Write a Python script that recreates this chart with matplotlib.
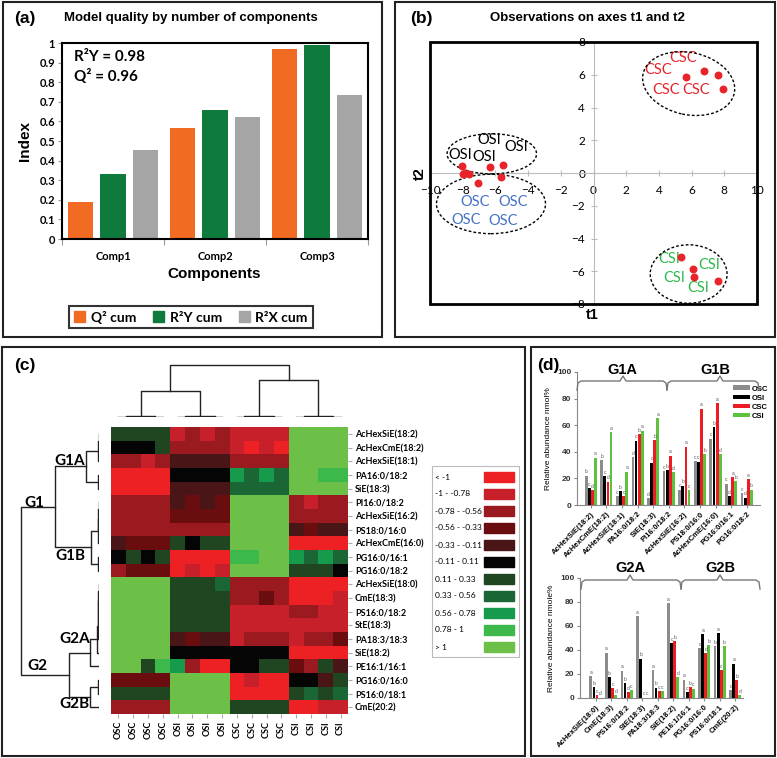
import matplotlib
matplotlib.use('Agg')
import matplotlib.pyplot as plt
import numpy as np
from matplotlib.colors import ListedColormap, BoundaryNorm
from matplotlib.patches import Rectangle, Ellipse, Patch
from matplotlib.lines import Line2D

plt.rcParams['font.family'] = ['Liberation Sans', 'DejaVu Sans']

# ---------------- data ----------------
# (a) model quality
components = ['Comp1', 'Comp2', 'Comp3']
q2_cum = [0.19, 0.565, 0.97]
r2y_cum = [0.33, 0.66, 0.99]
r2x_cum = [0.455, 0.625, 0.735]

# (b) scores t1/t2
csc_t1 = [5.67, 6.78, 7.61, 7.90]
csc_t2 = [5.88, 6.25, 5.97, 5.13]
osi_t1 = [-8.04, -6.35, -5.53, -5.65]
osi_t2 = [0.44, 0.34, 0.48, -0.23]
osc_t1 = [-7.96, -7.63, -7.08, -7.85]
osc_t2 = [-0.05, -0.05, -0.60, -0.02]
csi_t1 = [5.33, 6.08, 6.14, 7.61]
csi_t2 = [-5.11, -5.84, -6.35, -6.58]

# (c) heatmap (level index into the legend classes)
lipids = ['AcHexSiE(18:2)', 'AcHexCmE(18:2)', 'AcHexSiE(18:1)', 'PA16:0/18:2', 'SiE(18:3)',
          'PI16:0/18:2', 'AcHexSiE(16:2)', 'PS18:0/16:0', 'AcHexCmE(16:0)', 'PG16:0/16:1',
          'PG16:0/18:2', 'AcHexSiE(18:0)', 'CmE(18:3)', 'PS16:0/18:2', 'StE(18:3)',
          'PA18:3/18:3', 'SiE(18:2)', 'PE16:1/16:1', 'PG16:0/16:0', 'PS16:0/18:1', 'CmE(20:2)']
samples = ['OSC'] * 4 + ['OSI'] * 4 + ['CSC'] * 4 + ['CSI'] * 4
levels = [
    [6, 6, 6, 6, 1, 2, 1, 2, 1, 1, 1, 1, 10, 10, 10, 10],
    [5, 5, 5, 6, 2, 2, 2, 2, 1, 0, 1, 0, 10, 10, 10, 10],
    [2, 2, 1, 2, 4, 4, 4, 4, 2, 2, 2, 2, 10, 10, 10, 10],
    [0, 0, 0, 0, 5, 5, 5, 5, 8, 7, 8, 7, 10, 10, 9, 9],
    [0, 0, 0, 0, 4, 4, 4, 4, 7, 7, 7, 7, 10, 10, 10, 10],
    [2, 2, 2, 2, 4, 3, 4, 3, 10, 10, 10, 10, 2, 1, 2, 2],
    [2, 2, 2, 2, 3, 3, 3, 3, 10, 10, 10, 10, 2, 2, 2, 2],
    [2, 2, 2, 2, 2, 2, 2, 2, 10, 10, 10, 10, 4, 3, 4, 4],
    [4, 3, 3, 3, 6, 5, 6, 6, 10, 10, 10, 10, 0, 0, 0, 0],
    [5, 6, 5, 6, 0, 0, 0, 0, 9, 9, 10, 10, 8, 7, 8, 7],
    [2, 3, 3, 3, 0, 1, 0, 1, 10, 10, 10, 10, 6, 6, 6, 5],
    [10, 10, 10, 10, 6, 6, 6, 7, 2, 2, 2, 2, 0, 0, 0, 0],
    [10, 10, 10, 10, 6, 6, 6, 6, 2, 2, 3, 2, 0, 0, 0, 1],
    [10, 10, 10, 10, 6, 6, 6, 6, 1, 1, 1, 1, 2, 2, 1, 1],
    [10, 10, 10, 10, 6, 6, 6, 6, 1, 1, 1, 1, 1, 1, 1, 1],
    [10, 10, 10, 10, 4, 3, 4, 4, 1, 2, 2, 2, 1, 2, 2, 3],
    [10, 10, 10, 10, 5, 5, 5, 5, 5, 5, 5, 5, 0, 0, 0, 0],
    [10, 10, 6, 9, 8, 2, 0, 0, 5, 5, 6, 6, 3, 2, 6, 4],
    [3, 3, 3, 3, 10, 10, 10, 10, 0, 1, 0, 0, 5, 5, 4, 6],
    [6, 6, 6, 6, 10, 10, 10, 10, 0, 0, 0, 0, 6, 7, 6, 7],
    [2, 2, 2, 2, 10, 10, 10, 10, 6, 6, 6, 6, 0, 0, 1, 1],
]
level_labels = ['< -1', '-1 - -0.78', '-0.78 - -0.56', '-0.56 - -0.33', '-0.33 - -0.11',
                '-0.11 - 0.11', '0.11 - 0.33', '0.33 - 0.56', '0.56 - 0.78', '0.78 - 1', '> 1']
level_colors = ['#ed2024', '#c8202a', '#9a1a1f', '#690d0f', '#4a1516', '#050505',
                '#1f4621', '#1a6634', '#169a4c', '#3db84a', '#6cbf47']

# (d) relative abundance
top_groups = ['AcHexSiE(18:2)', 'AcHexCmE(18:2)', 'AcHexSiE(18:1)', 'PA16:0/18:2', 'SiE(18:3)',
              'PI16:0/18:2', 'AcHexSiE(16:2)', 'PS18:0/16:0', 'AcHexCmE(16:0)', 'PG16:0/16:1',
              'PG16:0/18:2']
top_osc = [22, 33.5, 6.5, 36, 5.25, 25.5, 11.5, 33, 50, 16, 8.75]
top_osi = [12.5, 21.75, 10.25, 48.25, 31.75, 26, 14.5, 32.5, 58.5, 6.5, 5.5]
top_csc = [11, 17.5, 6.75, 53.25, 49, 37, 43.75, 72.5, 76.75, 20.75, 19.5]
top_csi = [35.5, 55, 25, 56, 65.5, 24.75, 11, 38.25, 38.25, 18, 11.5]
top_letters = ['bcda', 'bcda', 'cbca', 'dcba', 'dcba', 'cbad', 'cbac', 'ccab', 'cbad', 'cdab', 'cdab']

bot_groups = ['AcHexSiE(18:0)', 'CmE(18:3)', 'PS16:0/18:2', 'StE(18:3)', 'PA18:3/18:3',
              'SiE(18:2)', 'PE16:1/16:1', 'PG16:0/16:0', 'PS16:0/18:1', 'CmE(20:2)']
bot_osc = [18.3, 37.8, 22.8, 68, 23.3, 79.2, 15.3, 41.7, 43, 6.4]
bot_osi = [9.2, 17.5, 12.2, 32.8, 8.6, 45.6, 5, 53.3, 54.2, 28.6]
bot_csc = [2.2, 8, 5, 0.3, 5.6, 47.2, 9.4, 37.2, 23, 15]
bot_csi = [0.3, 2.2, 6.4, 0.3, 5.8, 17.2, 7.8, 43.9, 43.3, 2.2]
bot_letters = ['abcd', 'abcd', 'abdc', 'abcc', 'abcc', 'acbd', 'acbc', 'cadb', 'bacb', 'cabd']

group_names = ['OSC', 'OSI', 'CSC', 'CSI']
group_colors = ['#8c8c8c', '#000000', '#ed1c24', '#5cc13c']

# ---------------- helpers ----------------
W, H = 777, 758


def box(x0, y0, x1, y1):
    return [x0 / W, 1 - y1 / H, (x1 - x0) / W, (y1 - y0) / H]


def ftext(x, y, s, **kw):
    fig.text(x / W, 1 - y / H, s, **kw)


def frame(x0, y0, x1, y1, lw=1.5, ec='#222222'):
    fig.patches.append(Rectangle((x0 / W, 1 - y1 / H), (x1 - x0) / W, (y1 - y0) / H,
                                 transform=fig.transFigure, fill=False, lw=lw, ec=ec))


def brace(x0, x1, xm, y):
    px = [x0, x0 + 1, x0 + 4, xm - 3, xm, xm + 3, x1 - 4, x1 - 1, x1]
    py = [y + 9, y + 2, y, y, y - 5, y, y, y + 2, y + 9]
    fig.lines.append(Line2D([p / W for p in px], [1 - p / H for p in py],
                            transform=fig.transFigure, color='#777777', lw=1))


def draw_tree(ax, node, orient):
    # returns (position, height); leaves are integer indices
    if isinstance(node, int):
        return node + 0.5, 0.0
    l, r, h = node
    pl, hl = draw_tree(ax, l, orient)
    pr, hr = draw_tree(ax, r, orient)
    a = [pl, pl, pr, pr]
    b = [hl, h, h, hr]
    if orient == 'top':
        ax.plot(a, b, color='#222222', lw=1)
    else:
        ax.plot(b, a, color='#222222', lw=1)
    return (pl + pr) / 2, h


fig = plt.figure(figsize=(7.77, 7.58), dpi=100)

# panel frames
frame(3, 2, 382, 337)
frame(395, 2, 775, 337)
frame(2, 347, 525, 756)
frame(531, 347, 775, 756)

# ---------------- (a) ----------------
ax = fig.add_axes(box(62, 43, 368, 239))
x = np.arange(len(components))
ax.bar(x - 0.32, q2_cum, 0.25, color='#f26b23')
ax.bar(x, r2y_cum, 0.25, color='#0e7a3c')
ax.bar(x + 0.32, r2x_cum, 0.25, color='#a5a5a5')
ax.set_xlim(-0.5, 2.5)
ax.set_ylim(0, 1)
ax.set_yticks(np.round(np.arange(0, 1.01, 0.1), 1))
ax.set_yticklabels(['0'] + ['%.1f' % v for v in np.arange(0.1, 0.95, 0.1)] + ['1'],
                   family='Lato', fontweight='bold', fontsize=8)
ax.set_xticks([-0.5, 0.5, 1.5, 2.5])
ax.set_xticklabels([])
ax.set_xticks(x, minor=True)
ax.set_xticklabels(components, minor=True, family='Lato', fontweight='bold', fontsize=8)
ax.tick_params(axis='x', which='major', length=4, color='#999999')
ax.tick_params(axis='x', which='minor', length=0, pad=9)
ax.tick_params(axis='y', length=3, color='#999999', pad=2)
for s in ax.spines.values():
    s.set_linewidth(1.5)
ax.text(0.04, 0.93, 'R²Y = 0.98', transform=ax.transAxes, family='Lato', fontweight='bold',
        fontsize=11, va='center')
ax.text(0.04, 0.83, 'Q² = 0.96', transform=ax.transAxes, family='Lato', fontweight='bold',
        fontsize=11, va='center')
ftext(14, 18, '(a)', fontsize=12.5, fontweight='bold', va='center')
ftext(191, 18, 'Model quality by number of components', fontsize=9.5, fontweight='bold',
      ha='center', va='center')
ftext(25, 141, 'Index', fontsize=11, fontweight='bold', rotation=90, ha='center', va='center')
ftext(214, 274, 'Components', fontsize=11, fontweight='bold', ha='center', va='center')
handles = [Patch(color='#f26b23'), Patch(color='#0e7a3c'), Patch(color='#a5a5a5')]
leg = fig.legend(handles, ['Q² cum', 'R²Y cum', 'R²X cum'], loc='center',
                 bbox_to_anchor=(191 / W, 1 - 317 / H), ncol=3, fancybox=False,
                 edgecolor='black', prop={'family': 'Lato', 'weight': 'bold', 'size': 10},
                 handlelength=0.8, handleheight=0.8, columnspacing=1.2, handletextpad=0.4,
                 borderpad=0.35)
leg.get_frame().set_linewidth(1.5)

# ---------------- (b) ----------------
ax = fig.add_axes(box(430, 42, 757, 304))
ax.set_xlim(-10, 10)
ax.set_ylim(-8, 8)
for side in ['left', 'bottom']:
    ax.spines[side].set_position(('data', 0))
    ax.spines[side].set_color('#bbbbbb')
for side in ['top', 'right']:
    ax.spines[side].set_visible(False)
ax.add_patch(Rectangle((0, 0), 1, 1, transform=ax.transAxes, fill=False, lw=2, ec='black',
                       clip_on=False, zorder=5))
ax.set_xticks(range(-10, 11, 2))
ax.set_yticks(range(-8, 9, 2))
ax.tick_params(direction='inout', length=5, color='#bbbbbb', labelsize=8.5)
ax.tick_params(axis='x', pad=6)
for t in ax.get_xticklabels() + ax.get_yticklabels():
    t.set_family('Lato')
ax.scatter(csc_t1 + osi_t1 + osc_t1 + csi_t1, csc_t2 + osi_t2 + osc_t2 + csi_t2,
           s=22, color='#e8242a', zorder=4)
lab_kw = dict(family='Lato', fontsize=10.5, ha='center', va='center')
for (tx, ty) in [(3.95, 6.3), (5.5, 7.05), (4.45, 5.05), (6.3, 5.05)]:
    ax.text(tx, ty, 'CSC', color='#e8242a', **lab_kw)
for (tx, ty) in [(-8.12, 1.11), (-6.37, 2.03), (-6.67, 0.97), (-4.73, 1.56)]:
    ax.text(tx, ty, 'OSI', color='black', **lab_kw)
for (tx, ty) in [(-7.24, -1.8), (-4.94, -1.8), (-7.8, -2.9), (-5.55, -2.95)]:
    ax.text(tx, ty, 'OSC', color='#4472c4', **lab_kw)
for (tx, ty) in [(4.65, -5.26), (7.06, -5.62), (4.96, -6.42), (6.43, -7.03)]:
    ax.text(tx, ty, 'CSI', color='#2db84b', **lab_kw)
for (cx, cy, ew, eh, ang) in [(5.82, 5.46, 5.7, 3.8, -12), (-6.22, 1.17, 5.47, 2.45, 0),
                             (-6.27, -1.89, 6.67, 3.63, 0), (5.82, -6.17, 4.7, 3.57, 0)]:
    ax.add_patch(Ellipse((cx, cy), ew, eh, angle=ang, fill=False, ls=(0, (2, 1.5)),
                         lw=1, ec='black', zorder=3))
ftext(410, 18, '(b)', fontsize=12.5, fontweight='bold', va='center')
ftext(587, 18, 'Observations on axes t1 and t2', fontsize=9.5, fontweight='bold',
      ha='center', va='center')
ftext(420, 174, 't2', fontsize=10.5, fontweight='bold', rotation=90, ha='center', va='center')
ftext(592, 315, 't1', fontsize=10.5, fontweight='bold', ha='center', va='center')

# ---------------- (c) ----------------
cmap = ListedColormap(level_colors)
norm = BoundaryNorm(np.arange(-0.5, 11, 1), cmap.N)
ax = fig.add_axes(box(111, 427, 348, 714))
ax.pcolormesh(np.arange(17), np.arange(22), np.array(levels), cmap=cmap, norm=norm)
ax.set_xlim(0, 16)
ax.set_ylim(21, 0)
for s in ax.spines.values():
    s.set_visible(False)
ax.yaxis.tick_right()
ax.set_yticks(np.arange(21) + 0.5)
ax.set_yticklabels(lipids, family='Lato', fontweight='bold', fontsize=6.5)
ax.set_xticks(np.arange(16) + 0.5)
ax.set_xticklabels(samples, rotation=90, family='Lato', fontweight='bold', fontsize=6.5)
ax.tick_params(length=3, color='#aaaaaa', pad=2)

axt = fig.add_axes(box(111, 360, 348, 417))
col_tree = (((((0, 1, 0.4), (2, 3, 0.4), 0.8), (((4, 5, 0.4), (6, 7, 0.4), 0.8)), 26),
             (((8, 9, 0.4), (10, 11, 0.4), 0.8), ((12, 13, 0.4), (14, 15, 0.4), 0.8), 37), 52))
draw_tree(axt, col_tree, 'top')
axt.set_xlim(0, 16)
axt.set_ylim(0, 57)
axt.axis('off')

axr = fig.add_axes(box(19, 427, 99, 714))
g1a = ((((0, 1, 0.5), 2, 1.5)), (3, 4, 1.5), 13)
g1b = (((((5, 6, 0.5), 7, 1)), 8, 1.5), (9, 10, 1.5), 8)
g2a = ((((((11, 12, 0.3), 13, 0.6), 14, 0.9), 15, 1.2), 16, 2), 17, 9)
g2b = ((18, 19, 1.5), 20, 9)
row_tree = ((g1a, g1b, 44), (g2a, g2b, 30), 78)
draw_tree(axr, row_tree, 'left')
axr.set_xlim(80, 0)
axr.set_ylim(21, 0)
axr.axis('off')

glab = dict(family='Lato', fontweight='bold', fontsize=11, ha='center', va='center')
ftext(70, 461, 'G1A', **glab)
ftext(34, 503, 'G1', **glab)
ftext(70, 556, 'G1B', **glab)
ftext(75, 639, 'G2A', **glab)
ftext(37, 666, 'G2', **glab)
ftext(74, 704, 'G2B', **glab)
ftext(14, 365, '(c)', fontsize=12.5, fontweight='bold', va='center')

# heatmap legend
frame(432, 466, 519, 657, lw=0.8, ec='#bbbbbb')
for i, (lab, col) in enumerate(zip(level_labels, level_colors)):
    yc = 477 + i * 17
    ftext(435, yc, lab, family='Lato', fontsize=6, va='center')
    fig.patches.append(Rectangle((484 / W, 1 - (yc + 5) / H), 30 / W, 10 / H,
                                 transform=fig.transFigure, color=col))

# ---------------- (d) ----------------
def abundance(rect, groups, series, letters, xlim, ylabel):
    ax = fig.add_axes(box(*rect))
    xg = np.arange(len(groups))
    offs = [-0.3, -0.1, 0.1, 0.3]
    for k, vals in enumerate(series):
        ax.bar(xg + offs[k], vals, 0.18, color=group_colors[k], label=group_names[k])
        for j, v in enumerate(vals):
            ax.text(xg[j] + offs[k], v + 1, letters[j][k], fontsize=3.5, color='#555555',
                    ha='center', va='bottom')
    ax.set_xlim(*xlim)
    ax.set_ylim(0, 100)
    ax.set_yticks(range(0, 101, 20))
    ax.set_xticks(xg)
    ax.set_xticklabels(groups, rotation=45, ha='right', rotation_mode='anchor',
                       fontsize=5.5, fontweight='bold')
    for t in ax.get_yticklabels():
        t.set_fontsize(6)
        t.set_fontweight('bold')
        t.set_color('#333333')
    ax.tick_params(length=2, color='#888888', pad=2)
    for side in ['top', 'right']:
        ax.spines[side].set_visible(False)
    for side in ['left', 'bottom']:
        ax.spines[side].set_color('#888888')
        ax.spines[side].set_linewidth(0.8)
    ax.set_ylabel(ylabel, fontsize=6, labelpad=4)
    return ax


ax1 = abundance((577, 372, 760, 505), top_groups, [top_osc, top_osi, top_csc, top_csi],
                top_letters, (-0.885, 10.85), 'Relative abundance nmol%')
ax1.legend(loc='center left', bbox_to_anchor=(0.83, 0.77), frameon=False,
           prop={'weight': 'bold', 'size': 5.5}, handlelength=2.2, handleheight=0.6,
           labelspacing=0.25, handletextpad=0.3, borderpad=0)
ax2 = abundance((580, 578, 743, 698), bot_groups, [bot_osc, bot_osi, bot_csc, bot_csi],
                bot_letters, (-1.0, 9.5), 'Relative abundance nmole%')

brace(577, 667, 623, 381)
brace(667, 759, 720, 381)
brace(581, 681, 630, 580)
brace(681, 760, 720, 580)
blab = dict(fontsize=10.5, fontweight='bold', ha='center', va='center')
ftext(622, 370, 'G1A', **blab)
ftext(715, 370, 'G1B', **blab)
ftext(630, 568, 'G2A', **blab)
ftext(720, 568, 'G2B', **blab)
ftext(537, 365, '(d)', fontsize=12.5, fontweight='bold', va='center')

fig.savefig('out.png', dpi=100)
plt.close(fig)
